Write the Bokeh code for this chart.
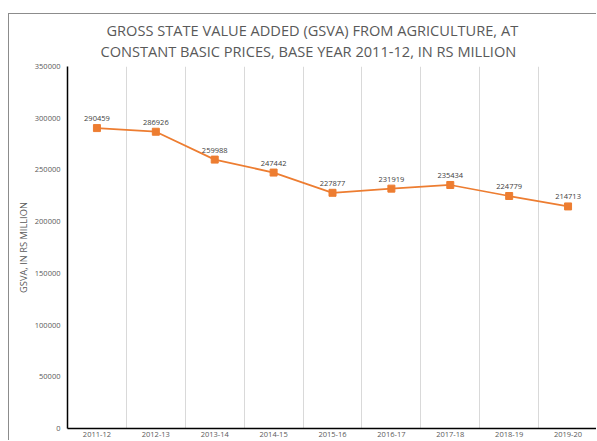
from bokeh.plotting import figure
from bokeh.models import ColumnDataSource, FixedTicker, Range1d, LabelSet, Title
from bokeh.core.properties import value
from bokeh.embed import file_html
from bokeh.resources import INLINE

years = ["2011-12", "2012-13", "2013-14", "2014-15", "2015-16",
         "2016-17", "2017-18", "2018-19", "2019-20"]
gsva = [290459, 286926, 259988, 247442, 227877, 231919, 235434, 224779, 214713]
y_ticks = [0, 50000, 100000, 150000, 200000, 250000, 300000, 350000]
title_lines = ["GROSS STATE VALUE ADDED (GSVA) FROM AGRICULTURE, AT",
               "CONSTANT BASIC PRICES, BASE YEAR 2011-12, IN RS MILLION"]

xpos = [i + 0.5 for i in range(len(years))]
src = ColumnDataSource(dict(x=xpos, y=gsva, lab=[str(v) for v in gsva]))

p = figure(width=588, height=427, output_backend="svg", toolbar_location=None,
           x_range=Range1d(0, len(years)), y_range=Range1d(0, 350000),
           min_border_left=58, min_border_right=0, min_border_top=52,
           min_border_bottom=13)
p.styles = {"margin-left": "8px", "margin-top": "13px",
            "border-left": "1px solid #8c8c8c", "border-top": "1px solid #8c8c8c"}

tstyle = dict(align="left", text_font="Open Sans", text_font_size="14.6px",
              text_font_style="normal", text_color="#595959")
p.title = Title(text=title_lines[0], standoff=-15, offset=39, **tstyle)
p.add_layout(Title(text=title_lines[1], standoff=12, offset=33, **tstyle), "above")

p.outline_line_color = None
p.background_fill_color = "white"
p.border_fill_color = "white"

p.ygrid.grid_line_color = None
p.xgrid.ticker = FixedTicker(ticks=list(range(1, len(years))))
p.xgrid.grid_line_color = "#d9d9d9"
p.xgrid.grid_line_width = 1

p.xaxis.ticker = FixedTicker(ticks=xpos)
p.xaxis.major_label_overrides = {x: y for x, y in zip(xpos, years)}
p.yaxis.ticker = FixedTicker(ticks=y_ticks)
p.yaxis.major_label_overrides = {v: str(v) for v in y_ticks}
p.yaxis.axis_label = "GSVA, IN RS MILLION"

for ax in (p.xaxis, p.yaxis):
    ax.axis_line_color = "black"
    ax.axis_line_width = 1.5
    ax.major_tick_line_color = None
    ax.minor_tick_line_color = None
    ax.major_tick_out = 0
    ax.major_tick_in = 0
    ax.minor_tick_out = 0
    ax.minor_tick_in = 0
    ax.major_label_text_font = "Open Sans"
    ax.major_label_text_font_size = "7.5px"
    ax.major_label_text_color = "#595959"

p.xaxis.major_label_standoff = 3
p.yaxis.major_label_standoff = 7
p.yaxis.axis_label_text_font = "Open Sans"
p.yaxis.axis_label_text_font_size = "9.3px"
p.yaxis.axis_label_text_font_style = "normal"
p.yaxis.axis_label_text_color = "#595959"
p.yaxis.axis_label_standoff = 2

p.line("x", "y", source=src, line_color="#ED7D31", line_width=1.75)
p.scatter("x", "y", source=src, marker="square", size=7, fill_color="#ED7D31",
          line_color="#ED7D31")

labels = LabelSet(x="x", y="y", text="lab", source=src, y_offset=7,
                  text_align="center", text_baseline="bottom",
                  text_font=value("Open Sans"), text_font_size="7.5px",
                  text_color="#404040")
p.add_layout(labels)

open("out.html", "w").write(file_html(p, INLINE))
